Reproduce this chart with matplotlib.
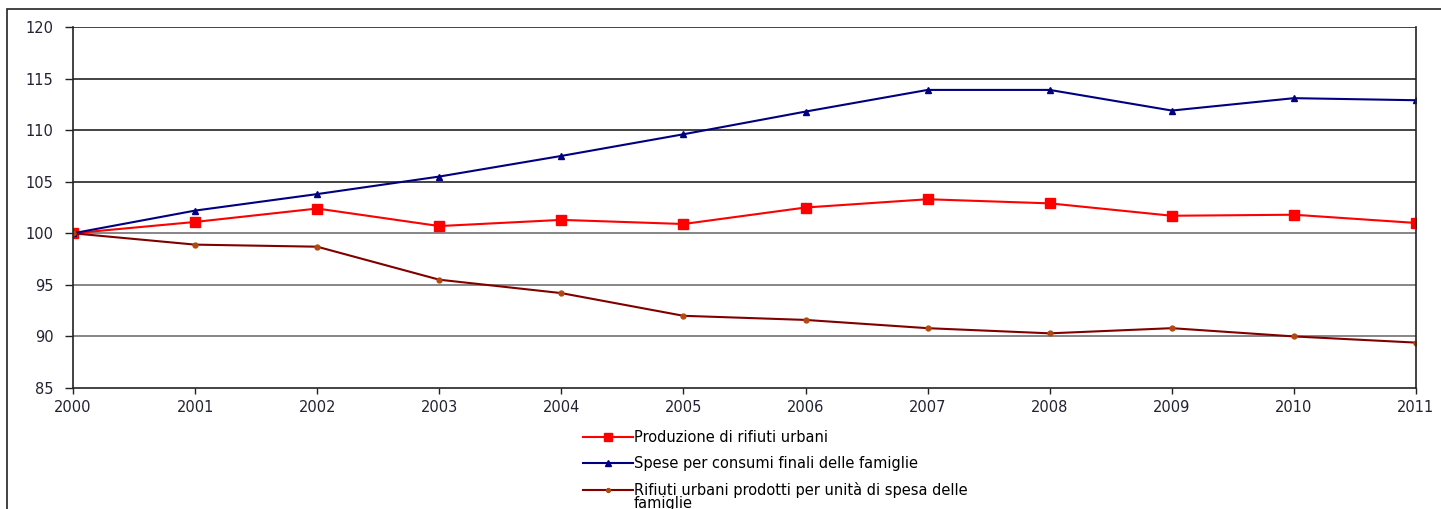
import matplotlib.pyplot as plt
from matplotlib.patches import Rectangle

plt.rcParams['font.family'] = ['DejaVu Sans']

# Data (indice 2000 = 100)
years = [2000, 2001, 2002, 2003, 2004, 2005, 2006, 2007, 2008, 2009, 2010, 2011]
produzione = [100, 101.1, 102.4, 100.7, 101.3, 100.9, 102.5, 103.3, 102.9, 101.7, 101.8, 101.0]
spese = [100, 102.2, 103.8, 105.5, 107.5, 109.6, 111.8, 113.9, 113.9, 111.9, 113.1, 112.9]
rifiuti_unita = [100, 98.9, 98.7, 95.5, 94.2, 92.0, 91.6, 90.8, 90.3, 90.8, 90.0, 89.4]

labels = [
    "Produzione di rifiuti urbani",
    "Spese per consumi finali delle famiglie",
    "Rifiuti urbani prodotti per unità di spesa delle",
]
label_wrap = "famiglie"

fig = plt.figure(figsize=(14.41, 5.09), dpi=100)

# outer frame of the chart object
fig.add_artist(Rectangle((7 / 1441, -0.1), 1.2, 1 - 9 / 509 + 0.1,
                         transform=fig.transFigure, fill=False,
                         edgecolor='#222222', linewidth=1.2))

ax = fig.add_axes([73 / 1441, 1 - 388 / 509, (1416 - 73) / 1441, (388 - 27) / 509])

ax.plot(years, produzione, color='#ff0000', marker='s', markersize=7, linewidth=1.5,
        label=labels[0])
ax.plot(years, spese, color='#000080', marker='^', markersize=5, linewidth=1.5,
        label=labels[1])
ax.plot(years, rifiuti_unita, color='#800000', marker='o', markersize=3.5,
        markerfacecolor='#b04a10', markeredgecolor='#b04a10', linewidth=1.5,
        label=labels[2])

ax.set_xlim(2000, 2011)
ax.set_ylim(85, 120)
ax.set_xticks(years)
ax.set_yticks(range(85, 121, 5))

# horizontal gridlines: darker in the upper part, gray below
for v in range(90, 121, 5):
    ax.axhline(v, color='#111111' if v >= 105 else '#666666', linewidth=1.1, zorder=0)

ax.spines['top'].set_visible(False)
for side in ['left', 'right', 'bottom']:
    ax.spines[side].set_color('#222222')
    ax.spines[side].set_linewidth(1.2)

ax.tick_params(axis='both', direction='out', length=6, width=1, color='#222222',
               labelsize=10.5, labelcolor='#222233')
ax.tick_params(axis='x', pad=5, length=4)
ax.tick_params(axis='y', pad=8)

leg = fig.legend(loc='upper left', bbox_to_anchor=(583 / 1441, 1 - 430 / 509),
                 frameon=False, fontsize=10.5, handlelength=3.4, handletextpad=0.1,
                 labelspacing=0.75, borderaxespad=0, borderpad=0, markerscale=0.8)

# second line of the last legend label, right under the first one
fig.canvas.draw()
bb = leg.get_texts()[2].get_window_extent().transformed(fig.transFigure.inverted())
fig.text(bb.x0, bb.y0 + 0.003, label_wrap, fontsize=10.5, va='top', ha='left')

fig.savefig('out.png', dpi=100)
